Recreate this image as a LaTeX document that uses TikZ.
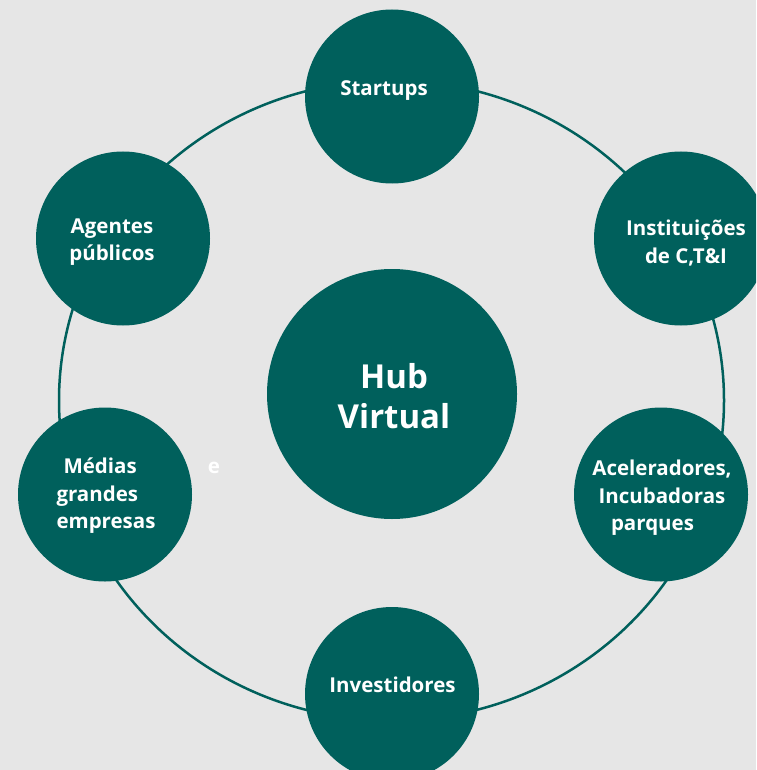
\documentclass[tikz,border=0pt]{standalone}
\usepackage{fontspec}
\setmainfont{Open Sans}
\definecolor{teal1}{HTML}{00605C}
\definecolor{bg}{HTML}{E6E6E6}
\begin{document}
\begin{tikzpicture}[x=1pt,y=-1pt,
  bubble/.style={circle,fill=teal1,draw=none,minimum size=174pt,inner sep=0pt},
  hub/.style={circle,fill=teal1,draw=none,minimum size=250pt,inner sep=0pt},
  lbl/.style={text=white,font=\bfseries\fontsize{20.5}{27.5}\selectfont,align=center,inner sep=0pt},
  hublbl/.style={text=white,font=\bfseries\fontsize{33}{40}\selectfont,align=center,inner sep=0pt},
  ring/.style={draw=teal1,line width=2.5pt}]
\useasboundingbox (0,0) rectangle (756,770);
\clip (0,0) rectangle (756,770);
\fill[bg] (0,0) rectangle (756,770);
\draw[ring] (391.5,400.5) ellipse [x radius=332.5pt, y radius=320pt];
\node[hub] (hub) at (392,394) {};
\node[bubble] (st) at (392,96.5) {};
\node[bubble] (ag) at (123,238.5) {};
\node[bubble] (in) at (681,238.5) {};
\node[bubble] (me) at (105,494.5) {};
\node[bubble] (ac) at (661,494.5) {};
\node[bubble] (iv) at (392,694) {};
\node[hublbl] (thub) at (394,396) {Hub\\Virtual};
\node[lbl] (tst) at (384,91) {Startups};
\node[lbl] (tag) at (112,242) {Agentes\\públicos};
\node[lbl] (tin) at (686,243) {Instituições\\de C,T\&I};
\node[lbl,align=left] (tme) at (106,496) {\hspace*{7pt}Médias\\grandes\\empresas};
\node[lbl] (tac) at (662,498) {Aceleradores,\\Incubadoras\\parques\hspace*{19pt}};
\node[lbl] (tiv) at (392.5,685) {Investidores};
\node[lbl] (te) at (214,468) {e};
\end{tikzpicture}
\end{document}
